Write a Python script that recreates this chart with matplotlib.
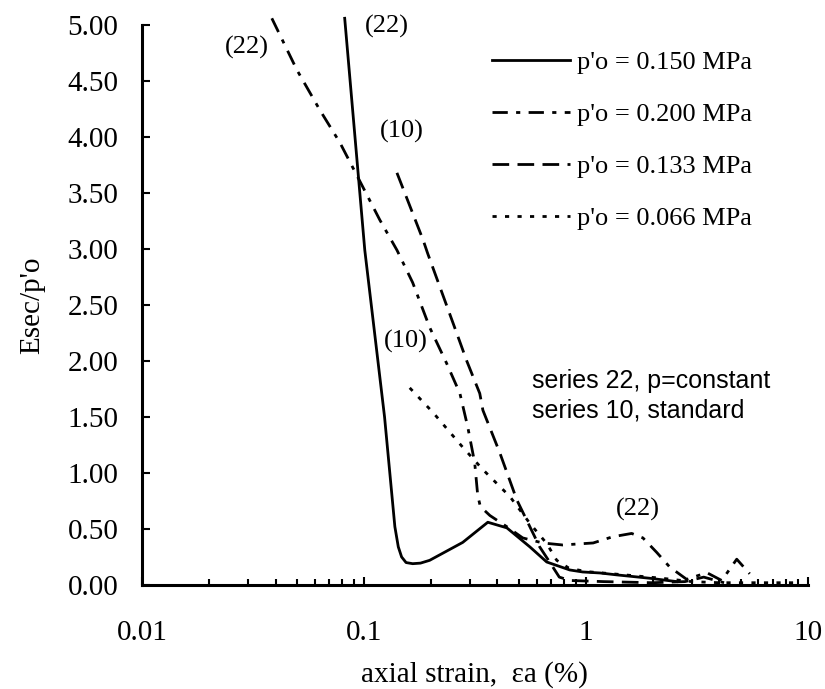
import numpy as np
import matplotlib
matplotlib.use("Agg")
import matplotlib.pyplot as plt

SERIF = "Liberation Serif"
SANS = "Liberation Sans"

# p'o = 0.150 MPa (series 22)
solid_x = [0.082, 0.101, 0.124, 0.138, 0.143, 0.148, 0.155, 0.166, 0.180, 0.198,
           0.279, 0.362, 0.441, 0.56, 0.667, 0.847, 0.969, 1.16, 1.38, 1.94, 2.57]
solid_y = [5.06, 2.99, 1.50, 0.52, 0.34, 0.25, 0.20, 0.19, 0.195, 0.22,
           0.38, 0.56, 0.51, 0.34, 0.205, 0.134, 0.116, 0.107, 0.09, 0.06, 0.03]

# p'o = 0.200 MPa (series 22)
dashdot_x = [0.0385, 0.0499, 0.0634, 0.078, 0.094, 0.118, 0.141, 0.166, 0.198,
             0.236, 0.271, 0.294, 0.316, 0.326, 0.335, 0.37, 0.441, 0.52, 0.64,
             0.787, 1.08, 1.32, 1.61, 1.81, 2.09, 2.39, 2.85, 3.51, 4.10, 4.79, 5.48]
dashdot_y = [5.06, 4.60, 4.24, 3.95, 3.64, 3.26, 2.99, 2.70, 2.30,
             1.98, 1.71, 1.41, 1.09, 0.80, 0.70, 0.62, 0.52, 0.42, 0.375,
             0.357, 0.375, 0.43, 0.46, 0.42, 0.29, 0.16, 0.05, 0.11, 0.04, 0.23, 0.10]

# p'o = 0.133 MPa (series 10)
dashed_x = [0.141, 0.185, 0.194, 0.262, 0.291, 0.333, 0.344, 0.41, 0.489, 0.56,
            0.62, 0.69, 0.76, 0.85, 1.2, 2.0, 2.8, 3.4, 4.2]
dashed_y = [3.68, 3.08, 2.96, 2.25, 2.0, 1.71, 1.56, 1.18, 0.76, 0.52,
            0.34, 0.20, 0.07, 0.04, 0.03, 0.02, 0.03, 0.07, 0.02]

# p'o = 0.066 MPa (series 10)
dotted_x = [0.161, 0.205, 0.279, 0.344, 0.455, 0.56, 0.667, 0.74, 0.84, 1.0,
            1.5, 2.2, 3.0, 4.0, 6.0, 9.0]
dotted_y = [1.76, 1.54, 1.23, 1.03, 0.79, 0.55, 0.37, 0.22, 0.15, 0.12,
            0.09, 0.06, 0.03, 0.02, 0.02, 0.02]

labels = ["p'o = 0.150 MPa", "p'o = 0.200 MPa", "p'o = 0.133 MPa", "p'o = 0.066 MPa"]

# series tags: text, x, y
tags = [("(22)", 0.127, 4.99), ("(22)", 0.0297, 4.80), ("(10)", 0.148, 4.05),
        ("(10)", 0.155, 2.17), ("(22)", 1.714, 0.67)]

fig = plt.figure(figsize=(8.25, 6.89), dpi=100)
ax = fig.add_axes([0.172, 0.151, 0.807, 0.8127])

lw = 2.0
styles = ["-", (0, (5.5, 3, 1.5, 3)), (0, (6, 3)), (0, (1.5, 3))]
series = [(solid_x, solid_y), (dashdot_x, dashdot_y), (dashed_x, dashed_y), (dotted_x, dotted_y)]
handles = []
for (xs, ys), ls, lab in zip(series, styles, labels):
    h, = ax.plot(xs, ys, color="black", lw=lw, linestyle=ls, label=lab, clip_on=False)
    handles.append(h)

ax.set_xscale("log")
ax.set_xlim(0.01, 10)
ax.set_ylim(0, 5)
ax.set_yticks(np.arange(0, 5.01, 0.5))
ax.yaxis.set_major_formatter(matplotlib.ticker.FormatStrFormatter("%.2f"))
ax.xaxis.set_major_formatter(matplotlib.ticker.FuncFormatter(lambda v, p: f"{v:g}"))
ax.xaxis.set_minor_formatter(matplotlib.ticker.NullFormatter())

for s in ["top", "right"]:
    ax.spines[s].set_visible(False)
for s in ["left", "bottom"]:
    ax.spines[s].set_linewidth(2.2)

ax.tick_params(axis="both", which="major", direction="in", length=6, width=1.5,
               labelsize=21)
ax.tick_params(axis="x", which="minor", direction="in", length=4.5, width=1.5)
ax.tick_params(axis="y", which="major", pad=17)
ax.tick_params(axis="x", which="major", pad=25)
for t in ax.get_xticklabels() + ax.get_yticklabels():
    t.set_fontfamily(SERIF)

ax.set_xlabel("axial strain,  \u03b5a (%)", fontsize=21, family=SERIF, labelpad=11)
ax.set_ylabel("Esec/p'o", fontsize=21, family=SERIF, labelpad=16)

for txt, x, y in tags:
    ax.text(x, y, txt, fontsize=19, family=SERIF, ha="center", va="center")

ax.text(0.571, 1.69, "series 22, p=constant\nseries 10, standard", fontsize=18,
        family=SANS, ha="left", va="center", linespacing=1.25)

ax.legend(handles=handles, loc="upper left", bbox_to_anchor=(0.506, 0.978),
          frameon=False, borderpad=0, handlelength=2.95, handletextpad=0.27,
          labelspacing=1.08, prop={"family": SERIF, "size": 19})

fig.savefig("out.png", dpi=100)
